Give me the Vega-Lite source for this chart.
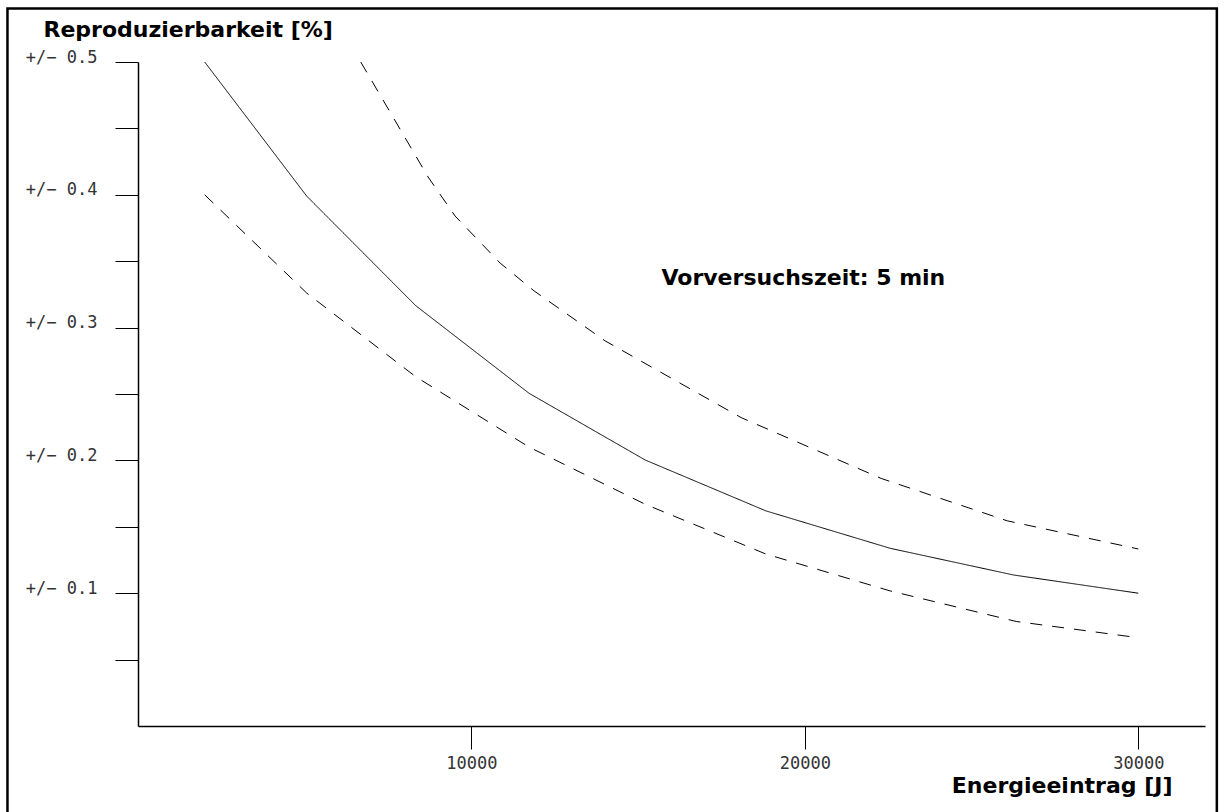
{
  "$schema": "https://vega.github.io/schema/vega-lite/v6.json",
  "width": 1067,
  "height": 664,
  "autosize": {"type": "none"},
  "padding": {"left": 138, "top": 62, "right": 20, "bottom": 86},
  "background": "white",
  "config": {"view": {"stroke": null}, "axis": {"grid": false}},
  "datasets": {
    "curves": [
      {"series": "Mittelwert", "x": 2000, "y": 0.5},
      {"series": "Mittelwert", "x": 5060, "y": 0.399},
      {"series": "Mittelwert", "x": 8330, "y": 0.3165},
      {"series": "Mittelwert", "x": 11730, "y": 0.2505},
      {"series": "Mittelwert", "x": 15210, "y": 0.2003},
      {"series": "Mittelwert", "x": 18830, "y": 0.162},
      {"series": "Mittelwert", "x": 22560, "y": 0.1338},
      {"series": "Mittelwert", "x": 26260, "y": 0.1137},
      {"series": "Mittelwert", "x": 30000, "y": 0.1},
      {"series": "Obergrenze", "x": 6680, "y": 0.5},
      {"series": "Obergrenze", "x": 8700, "y": 0.4134},
      {"series": "Obergrenze", "x": 9510, "y": 0.384},
      {"series": "Obergrenze", "x": 10860, "y": 0.3486},
      {"series": "Obergrenze", "x": 11880, "y": 0.3276},
      {"series": "Obergrenze", "x": 14010, "y": 0.29},
      {"series": "Obergrenze", "x": 18090, "y": 0.2322},
      {"series": "Obergrenze", "x": 22290, "y": 0.1864},
      {"series": "Obergrenze", "x": 26070, "y": 0.1545},
      {"series": "Obergrenze", "x": 30000, "y": 0.1333},
      {"series": "Untergrenze", "x": 2000, "y": 0.4},
      {"series": "Untergrenze", "x": 5060, "y": 0.326},
      {"series": "Untergrenze", "x": 8330, "y": 0.263},
      {"series": "Untergrenze", "x": 11730, "y": 0.21},
      {"series": "Untergrenze", "x": 15210, "y": 0.167},
      {"series": "Untergrenze", "x": 18830, "y": 0.1295},
      {"series": "Untergrenze", "x": 22560, "y": 0.1017},
      {"series": "Untergrenze", "x": 26340, "y": 0.0787},
      {"series": "Untergrenze", "x": 30000, "y": 0.0665}
    ],
    "notes": [
      {"text": "Vorversuchszeit: 5 min", "x": 15700, "y": 0.332}
    ]
  },
  "layer": [
    {
      "data": {"name": "curves"},
      "mark": {"type": "line", "color": "black", "strokeWidth": 1, "strokeCap": "butt"},
      "encoding": {
        "x": {
          "field": "x",
          "type": "quantitative",
          "scale": {"domain": [0, 32000], "nice": false, "zero": false},
          "axis": {
            "orient": "bottom",
            "values": [10000, 20000, 30000],
            "format": "d",
            "tickSize": 23,
            "tickColor": "black",
            "tickWidth": 1,
            "domainColor": "black",
            "domainWidth": 1.5,
            "labelFont": "DejaVu Sans Mono",
            "labelFontSize": 17,
            "labelColor": "#333333",
            "labelPadding": 6,
            "labelFlush": false,
            "labelOverlap": false,
            "title": "Energieeintrag [J]",
            "titleFont": "DejaVu Sans",
            "titleFontSize": 22,
            "titleFontWeight": "bold",
            "titleColor": "black",
            "titleAlign": "right",
            "titleAnchor": "end",
            "titleBaseline": "alphabetic",
            "titleX": 1034,
            "titleY": 66
          }
        },
        "y": {
          "field": "y",
          "type": "quantitative",
          "scale": {"domain": [0, 0.5], "nice": false, "zero": false},
          "axis": {
            "orient": "left",
            "values": [0.05, 0.1, 0.15, 0.2, 0.25, 0.3, 0.35, 0.4, 0.45, 0.5],
            "labelExpr": "round(datum.value * 100) % 10 == 0 ? '+/− ' + format(datum.value, '.1f') : ''",
            "tickSize": 23,
            "tickColor": "black",
            "tickWidth": 1,
            "domainColor": "black",
            "domainWidth": 1.5,
            "labelFont": "DejaVu Sans Mono",
            "labelFontSize": 17,
            "labelColor": "#333333",
            "labelPadding": 18,
            "labelBaseline": "alphabetic",
            "labelFlush": false,
            "labelOverlap": false,
            "title": "Reproduzierbarkeit [%]",
            "titleFont": "DejaVu Sans",
            "titleFontSize": 22,
            "titleFontWeight": "bold",
            "titleColor": "black",
            "titleAngle": 0,
            "titleAlign": "left",
            "titleAnchor": "start",
            "titleBaseline": "alphabetic",
            "titleX": -95,
            "titleY": -26
          }
        },
        "detail": {"field": "series"},
        "strokeDash": {
          "field": "series",
          "type": "nominal",
          "scale": {
            "domain": ["Mittelwert", "Obergrenze", "Untergrenze"],
            "range": [[1, 0], [12, 10], [12, 10]]
          },
          "legend": null
        }
      }
    },
    {
      "data": {"name": "notes"},
      "mark": {
        "type": "text",
        "font": "DejaVu Sans",
        "fontWeight": "bold",
        "fontSize": 22,
        "align": "left",
        "baseline": "alphabetic",
        "color": "black"
      },
      "encoding": {
        "x": {"field": "x", "type": "quantitative"},
        "y": {"field": "y", "type": "quantitative"},
        "text": {"field": "text"}
      }
    },
    {
      "data": {"values": [{}]},
      "mark": {"type": "rect", "fillOpacity": 0, "stroke": "black", "strokeWidth": 2.5, "clip": false},
      "encoding": {
        "x": {"datum": -3915, "type": "quantitative"},
        "x2": {"datum": 32355},
        "y": {"datum": 0.5403, "type": "quantitative"},
        "y2": {"datum": -0.08}
      }
    }
  ]
}
